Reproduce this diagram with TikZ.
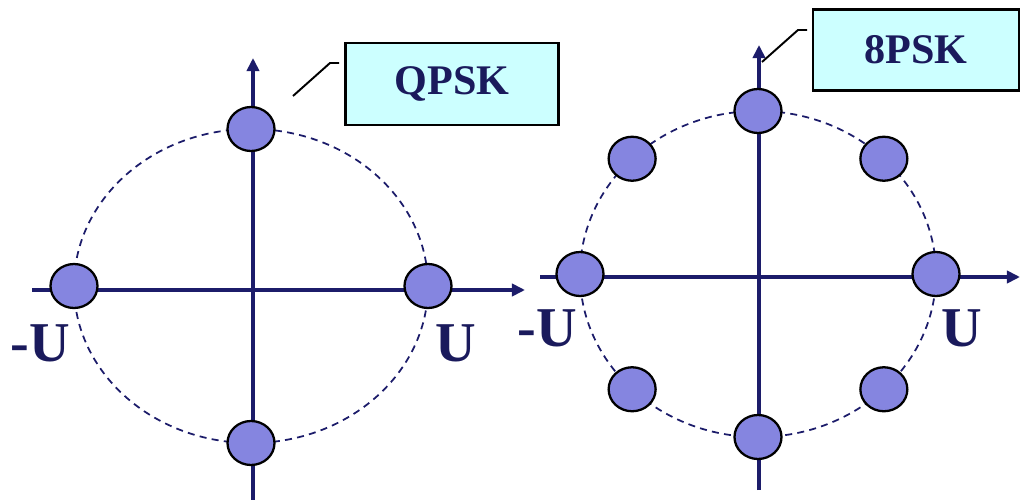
\documentclass[tikz,border=0pt]{standalone}
\usepackage{fontspec}
\setmainfont{Liberation Serif}
\usetikzlibrary{arrows.meta,positioning,calc,shapes.geometric}
\definecolor{cAxis}{HTML}{1c1c6a}
\definecolor{cDot}{HTML}{8585e0}
\definecolor{cBox}{HTML}{ccffff}
\definecolor{cText}{HTML}{1a1a5c}
\tikzset{
  sym/.style={ellipse,draw=black,line width=1.3pt,fill=cDot,minimum width=0.94cm,minimum height=0.88cm,inner sep=0pt},
  axis/.style={-{Triangle[length=7.5pt,width=7pt]},line width=2.1pt,cAxis},
  ring/.style={cAxis,line width=1pt,dash pattern=on 4pt off 3pt},
  tag/.style={draw=black,line width=1.2pt,fill=cBox,inner sep=0pt,font=\fontsize{24}{28}\selectfont\bfseries,text=cText},
  level/.style={font=\fontsize{32}{36}\selectfont\bfseries,text=cText,inner sep=0pt},
  lead/.style={black,line width=1.1pt},
}

\begin{document}
\begin{tikzpicture}[x=0.02cm,y=-0.02cm]
  \useasboundingbox (0,0) rectangle (1021,500);
  % QPSK
  \draw[ring] (251,286) ellipse [x radius=177,y radius=157];
  \draw[axis] (253,500) -- (253,58);
  \draw[axis] (32,290) -- (525,290);
  \foreach \a in {0,90,180,270}
    \node[sym] (q\a) at ($(251,286)+(\a:177 and 157)$) {};
  \node[level] (qneg) at (40,343) {-U};
  \node[level] (qpos) at (456,343) {U};
  \node[tag,minimum width=4.26cm,minimum height=1.64cm] (qpsk) at (452,84) {QPSK};
  \coordinate (qtip) at (293,96);
  \coordinate (qknee) at (330,63);
  \coordinate (qend) at (339,63);
  \draw[lead] (qtip) -- (qknee) -- (qend);
  % 8PSK
  \draw[ring] (758,274) ellipse [x radius=178,y radius=163];
  \draw[axis] (759,490) -- (759,45);
  \draw[axis] (540,277) -- (1020,277);
  \foreach \a in {0,45,...,315}
    \node[sym] (p\a) at ($(758,274)+(\a:178 and 163)$) {};
  \node[level] (pneg) at (547,328) {-U};
  \node[level] (ppos) at (962,328) {U};
  \node[tag,minimum width=4.12cm,minimum height=1.62cm] (psk) at (916,50) {8PSK};
  \coordinate (ptip) at (762,62);
  \coordinate (pknee) at (798,30);
  \coordinate (pend) at (807,30);
  \draw[lead] (ptip) -- (pknee) -- (pend);
\end{tikzpicture}
\end{document}
